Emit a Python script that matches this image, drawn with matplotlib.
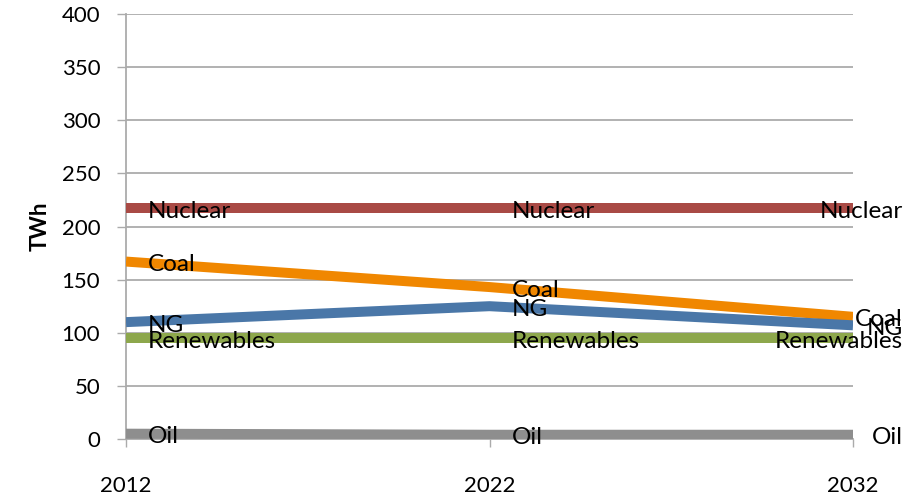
import numpy as np
import matplotlib.pyplot as plt

plt.rcParams['font.family'] = ['Lato', 'DejaVu Sans']

# Generation by source (TWh)
years = ['2012', '2022', '2032']
nuclear = [217, 217, 217]
coal = [167, 143, 115]
ng = [110, 125, 107]
renewables = [95, 95, 95]
oil = [5, 4, 4]

series = [
    ('Oil', oil, '#8E8E8E'),
    ('Renewables', renewables, '#8DA74C'),
    ('Nuclear', nuclear, '#A94A45'),
    ('Coal', coal, '#F08700'),
    ('NG', ng, '#4A77A8'),
]

fig = plt.figure(figsize=(9.19, 4.95), dpi=100)
ax = fig.add_axes([126 / 919, 1 - 439 / 495, (853 - 126) / 919, (439 - 14) / 495])

x = np.arange(len(years))
for name, vals, col in series:
    ax.plot(x, vals, color=col, lw=7.2, solid_capstyle='butt', zorder=3)

# data labels: right of each point, last column pulled back inside the chart
for name, vals, col in series:
    for i, v in enumerate(vals):
        if i == len(vals) - 1:
            ax.annotate(name, (x[i], v), xytext=(50, -3), textcoords='offset pixels',
                        ha='right', va='center', fontsize=17.5, zorder=5,
                        annotation_clip=False)
        else:
            ax.annotate(name, (x[i], v), xytext=(22, -3), textcoords='offset pixels',
                        ha='left', va='center', fontsize=17.5, zorder=5)

ax.set_xlim(0, len(years) - 1)
ax.set_ylim(0, 400)
ax.set_yticks(np.arange(0, 401, 50))
ax.set_xticks(x)
ax.set_xticklabels(years)
ax.grid(axis='y', color='#ABABAB', lw=1.3, zorder=0)
ax.set_axisbelow(True)

for s in ['top', 'right']:
    ax.spines[s].set_visible(False)
for s in ['left', 'bottom']:
    ax.spines[s].set_color('#ABABAB')
    ax.spines[s].set_linewidth(1.3)

ax.tick_params(axis='y', length=6.5, width=1.0, color='#ABABAB', pad=12, labelsize=16)
ax.tick_params(axis='x', length=6, width=1.0, color='#ABABAB', pad=21, labelsize=16)
ax.set_ylabel('TWh', fontsize=16, fontweight='bold', labelpad=8)

fig.savefig('out.png', dpi=100)
